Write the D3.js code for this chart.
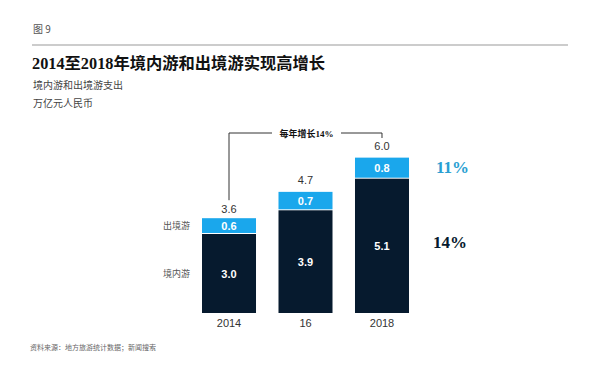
<!DOCTYPE html>
<html>
<head>
<meta charset="utf-8">
<script src="https://cdn.jsdelivr.net/npm/d3@7"></script>
<style>
  body { margin: 0; background: #fff; }
  svg { display: block; }
</style>
</head>
<body>
<div class="chart"></div>
<script>
// data
var years = ["2014", "16", "2018"];
var domestic = [3.0, 3.9, 5.1];
var outbound = [0.6, 0.7, 0.8];
var totals = [3.6, 4.7, 6.0];
var seriesNames = ["境内游", "出境游"];
var growth = ["11%", "14%"];

var width = 600, height = 370;
var navy = "#061a2e", blue = "#1aa7ec";
var cjkSerif = "'Liberation Serif', 'Noto Sans CJK SC', serif";
var cjk = "'Noto Sans CJK SC', sans-serif";
var num = "'Liberation Sans', Arial, sans-serif";

var svg = d3.select(".chart").append("svg")
  .attr("width", width).attr("height", height);

// header
svg.append("text").attr("x", 33).attr("y", 33)
  .attr("font-family", cjk).attr("font-size", 10).attr("fill", "#555")
  .text("图 9");
svg.append("line").attr("x1", 32).attr("x2", 568).attr("y1", 45).attr("y2", 45)
  .attr("stroke", "#999").attr("stroke-width", 1);
svg.append("text").attr("x", 32).attr("y", 69)
  .attr("font-family", cjkSerif).attr("font-size", 16.3).attr("font-weight", "bold")
  .attr("fill", "#111")
  .text("2014至2018年境内游和出境游实现高增长");
svg.append("text").attr("x", 33).attr("y", 89)
  .attr("font-family", cjk).attr("font-size", 10).attr("fill", "#444")
  .text("境内游和出境游支出");
svg.append("text").attr("x", 33).attr("y", 107)
  .attr("font-family", cjk).attr("font-size", 10).attr("fill", "#444")
  .text("万亿元人民币");

// scales
var x = d3.scaleBand().domain(years).range([202, 409]).paddingInner(0.294).paddingOuter(0);
var y = d3.scaleLinear().domain([0, 6]).range([313, 155]);

var g = svg.append("g");
var rows = years.map(function (d, i) {
  return { year: d, dom: domestic[i], out: outbound[i], total: totals[i] };
});

// domestic segments
g.selectAll(".dom").data(rows).enter().append("rect")
  .attr("x", function (d) { return x(d.year); })
  .attr("width", x.bandwidth())
  .attr("y", function (d) { return y(d.dom); })
  .attr("height", function (d) { return y(0) - y(d.dom); })
  .attr("fill", navy);

// outbound segments
g.selectAll(".out").data(rows).enter().append("rect")
  .attr("x", function (d) { return x(d.year); })
  .attr("width", x.bandwidth())
  .attr("y", function (d) { return y(d.dom + d.out); })
  .attr("height", function (d) { return y(d.dom) - y(d.dom + d.out) - 1; })
  .attr("fill", blue);

// value labels
g.selectAll(".domlab").data(rows).enter().append("text")
  .attr("x", function (d) { return x(d.year) + x.bandwidth() / 2; })
  .attr("y", function (d) { return (y(0) + y(d.dom)) / 2 + 4; })
  .attr("text-anchor", "middle").attr("font-family", num).attr("font-size", 11)
  .attr("font-weight", "bold").attr("fill", "#fff")
  .text(function (d) { return d.dom.toFixed(1); });
g.selectAll(".outlab").data(rows).enter().append("text")
  .attr("x", function (d) { return x(d.year) + x.bandwidth() / 2; })
  .attr("y", function (d) { return (y(d.dom) + y(d.dom + d.out)) / 2 + 4; })
  .attr("text-anchor", "middle").attr("font-family", num).attr("font-size", 11)
  .attr("font-weight", "bold").attr("fill", "#fff")
  .text(function (d) { return d.out.toFixed(1); });
g.selectAll(".totlab").data(rows).enter().append("text")
  .attr("x", function (d) { return x(d.year) + x.bandwidth() / 2; })
  .attr("y", function (d) { return y(d.total) - 5; })
  .attr("text-anchor", "middle").attr("font-family", num).attr("font-size", 11)
  .attr("fill", "#333")
  .text(function (d) { return d.total.toFixed(1); });

// x axis labels
var xAxis = svg.append("g").attr("transform", "translate(0," + y(0) + ")")
  .call(d3.axisBottom(x).tickSize(0).tickPadding(6));
xAxis.select(".domain").remove();
xAxis.selectAll("text").attr("font-family", num).attr("font-size", 11).attr("fill", "#333");

// series labels on the left
var first = rows[0];
svg.append("text").attr("x", 190).attr("y", (y(first.dom) + y(first.total)) / 2 + 3)
  .attr("text-anchor", "end").attr("font-family", cjk).attr("font-size", 9).attr("fill", "#555")
  .text(seriesNames[1]);
svg.append("text").attr("x", 190).attr("y", (y(0) + y(first.dom)) / 2 + 3)
  .attr("text-anchor", "end").attr("font-family", cjk).attr("font-size", 9).attr("fill", "#555")
  .text(seriesNames[0]);

// growth bracket
var bx0 = x(years[0]) + x.bandwidth() / 2;
var bx1 = x(years[2]) + x.bandwidth() / 2;
var by = 133;
svg.append("path")
  .attr("d", "M" + bx0 + "," + (y(first.total) - 18) + "V" + by + "H272")
  .attr("fill", "none").attr("stroke", "#333").attr("stroke-width", 1);
svg.append("path")
  .attr("d", "M341," + by + "H" + bx1 + "V" + (y(rows[2].total) - 17))
  .attr("fill", "none").attr("stroke", "#333").attr("stroke-width", 1);
svg.append("text").attr("x", (272 + 341) / 2).attr("y", by + 3.5)
  .attr("text-anchor", "middle").attr("font-family", cjkSerif).attr("font-size", 9)
  .attr("font-weight", "bold").attr("fill", "#111")
  .text("每年增长14%");

// growth rates on the right
var last = rows[2];
svg.append("text").attr("x", 436).attr("y", (y(last.dom) + y(last.total)) / 2 + 6)
  .attr("font-family", cjkSerif).attr("font-size", 17).attr("font-weight", "bold")
  .attr("fill", "#2a9fd2").text(growth[0]);
svg.append("text").attr("x", 433).attr("y", 248)
  .attr("font-family", cjkSerif).attr("font-size", 17).attr("font-weight", "bold")
  .attr("fill", navy).text(growth[1]);

// source
svg.append("text").attr("x", 30).attr("y", 350)
  .attr("font-family", cjk).attr("font-size", 7).attr("fill", "#666")
  .text("资料来源：地方旅游统计数据；新闻搜索");
</script>
</body>
</html>
